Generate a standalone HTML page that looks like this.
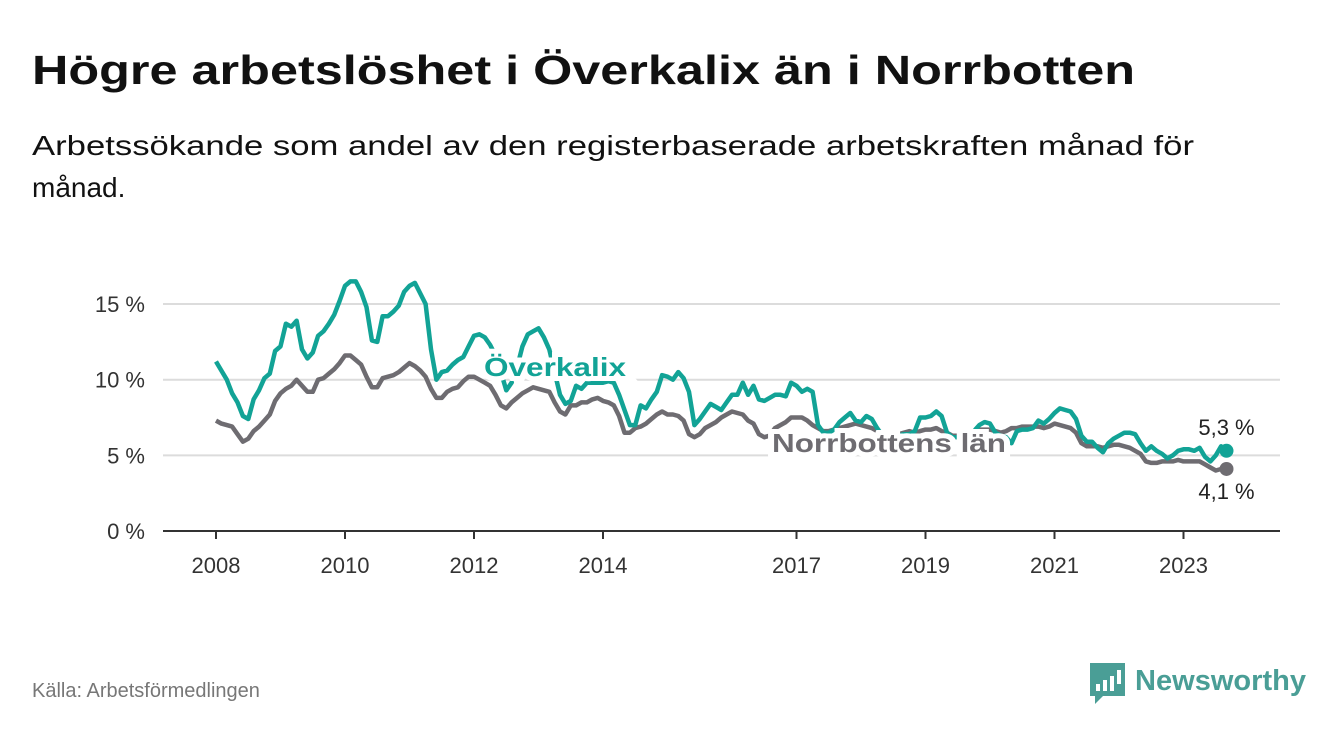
<!DOCTYPE html>
<html><head><meta charset="utf-8"><style>
html,body{margin:0;padding:0;background:#fff;}
svg{display:block;font-family:"Liberation Sans",sans-serif;}
</style></head><body>
<svg id="chart" width="1340" height="734" viewBox="0 0 1340 734">
<text x="32" y="84" font-size="41" font-weight="bold" fill="#111" textLength="1103" lengthAdjust="spacingAndGlyphs">Högre arbetslöshet i Överkalix än i Norrbotten</text>
<text x="32" y="155" font-size="28" fill="#111" textLength="1162" lengthAdjust="spacingAndGlyphs">Arbetssökande som andel av den registerbaserade arbetskraften månad för</text>
<text x="32" y="197" font-size="28" fill="#111">månad.</text>
<g id="grid"></g>
<g id="yticks"></g>
<g id="xticks"></g>
<g id="lines"></g>
<text x="32" y="697" font-size="20" fill="#777">Källa: Arbetsförmedlingen</text>
<g>
<path d="M1090 663 h35 v33 h-22 l-8 8 v-8 h-5 z" fill="#4a9e96"/>
<rect x="1096" y="684" width="4" height="7" fill="#fff"/><rect x="1103" y="680" width="4" height="11" fill="#fff"/><rect x="1110" y="676" width="4" height="15" fill="#fff"/><rect x="1117" y="670" width="4" height="14" fill="#fff"/>
<text x="1135" y="690" font-size="29" font-weight="bold" fill="#4a9e96" textLength="171" lengthAdjust="spacingAndGlyphs">Newsworthy</text>
</g>
</svg>
<script>
const yTicks=[0,5,10,15];
const yTickLabels=["0 %","5 %","10 %","15 %"];
const xTickYears=[2008,2010,2012,2014,2017,2019,2021,2023];
const overkalix=[11.2,10.6,10.0,9.1,8.5,7.6,7.4,8.7,9.3,10.1,10.4,11.9,12.2,13.7,13.5,13.9,12.0,11.4,11.8,12.9,13.2,13.7,14.3,15.2,16.2,16.5,16.5,15.8,14.8,12.6,12.5,14.2,14.2,14.5,14.9,15.8,16.2,16.4,15.7,15.0,12.0,10.0,10.5,10.6,11.0,11.3,11.5,12.2,12.9,13.0,12.8,12.3,11.6,10.5,9.3,9.8,10.8,12.2,13.0,13.2,13.4,12.8,12.0,10.5,9.0,8.4,8.6,9.6,9.4,9.8,9.8,9.8,9.8,9.9,9.8,9.0,8.0,7.0,7.0,8.3,8.1,8.7,9.2,10.3,10.2,10.0,10.5,10.1,9.2,7.0,7.4,7.9,8.4,8.2,8.0,8.5,9.0,9.0,9.8,9.0,9.6,8.7,8.6,8.8,9.0,9.0,8.9,9.8,9.6,9.2,9.4,9.2,7.0,6.5,6.5,6.7,7.2,7.5,7.8,7.3,7.2,7.6,7.4,6.8,6.3,6.2,6.2,6.3,6.4,6.4,6.6,7.5,7.5,7.6,7.9,7.6,6.5,6.2,6.2,6.2,6.4,6.6,7.0,7.2,7.1,6.5,6.3,6.2,5.8,6.6,6.7,6.7,6.8,7.3,7.1,7.4,7.8,8.1,8.0,7.9,7.4,6.3,5.9,5.9,5.5,5.2,5.8,6.1,6.3,6.5,6.5,6.4,5.8,5.3,5.6,5.3,5.1,4.8,5.0,5.3,5.4,5.4,5.3,5.5,4.9,4.6,5.0,5.6,5.3];
const norrbotten=[7.3,7.1,7.0,6.9,6.4,5.9,6.1,6.6,6.9,7.3,7.7,8.6,9.1,9.4,9.6,10.0,9.6,9.2,9.2,10.0,10.1,10.4,10.7,11.1,11.6,11.6,11.3,11.0,10.2,9.5,9.5,10.1,10.2,10.3,10.5,10.8,11.1,10.9,10.6,10.2,9.4,8.8,8.8,9.2,9.4,9.5,9.9,10.2,10.2,10.0,9.8,9.6,9.0,8.3,8.1,8.5,8.8,9.1,9.3,9.5,9.4,9.3,9.2,8.5,7.9,7.7,8.3,8.3,8.5,8.5,8.7,8.8,8.6,8.5,8.3,7.6,6.5,6.5,6.8,6.9,7.1,7.4,7.7,7.9,7.7,7.7,7.6,7.3,6.4,6.2,6.4,6.8,7.0,7.2,7.5,7.7,7.9,7.8,7.7,7.3,7.1,6.4,6.2,6.3,6.8,7.0,7.2,7.5,7.5,7.5,7.3,7.0,6.8,6.6,6.6,6.7,6.8,6.9,7.0,7.1,7.0,6.9,6.8,6.6,6.5,6.5,6.4,6.4,6.5,6.6,6.5,6.6,6.7,6.7,6.8,6.6,6.5,6.3,6.3,6.4,6.5,6.6,6.7,6.7,6.7,6.6,6.5,6.6,6.8,6.8,6.9,6.9,6.9,6.9,6.8,6.9,7.1,7.0,6.9,6.8,6.5,5.8,5.6,5.6,5.6,5.5,5.6,5.7,5.7,5.6,5.5,5.3,5.1,4.6,4.5,4.5,4.6,4.6,4.6,4.7,4.6,4.6,4.6,4.6,4.4,4.2,4.0,4.1,4.1];
const lastLabels=["5,3 %","4,1 %"];

const NS="http://www.w3.org/2000/svg";
const x0=216, pxPerMonth=64.5/12, yZero=531, pxPerPct=15.13;
function xScale(i){return x0+i*pxPerMonth;}
function xYear(y){return x0+(y-2008)*12*pxPerMonth;}
function yScale(v){return yZero-v*pxPerPct;}
function mk(tag,attrs,parent){const e=document.createElementNS(NS,tag);for(const k in attrs)e.setAttribute(k,attrs[k]);parent.appendChild(e);return e;}

const grid=document.getElementById('grid'),yt=document.getElementById('yticks'),xt=document.getElementById('xticks'),lines=document.getElementById('lines');
yTicks.forEach((v,k)=>{
  if(v>0){const g=mk('line',{x1:163,x2:1280,y1:yScale(v),y2:yScale(v),stroke:'#dcdcdc','stroke-width':2},grid);
  
  }
  const t=mk('text',{x:145,y:yScale(v)+8,'font-size':22,fill:'#333','text-anchor':'end'},yt);
  t.textContent=yTickLabels[k];
  
  
});
const ax=mk('line',{x1:163,x2:1280,y1:yZero,y2:yZero,stroke:'#333','stroke-width':2},xt);


xTickYears.forEach(y=>{
  const tk=mk('line',{x1:xYear(y),x2:xYear(y),y1:yZero,y2:yZero+8,stroke:'#333','stroke-width':2},xt);
  
  
  const t=mk('text',{x:xYear(y),y:573,'font-size':22,fill:'#333','text-anchor':'middle'},xt);
  t.textContent=y;
  
  
});
function path(arr){return arr.map((v,i)=>(i?'L':'M')+xScale(i).toFixed(1)+' '+yScale(v).toFixed(1)).join(' ');}
const pg=mk('path',{d:path(norrbotten),fill:'none',stroke:'#6e6c71','stroke-width':4.5,'stroke-linejoin':'round'},lines);


const pt=mk('path',{d:path(overkalix),fill:'none',stroke:'#12a396','stroke-width':4.5,'stroke-linejoin':'round'},lines);


const nL=norrbotten.length-1, oL=overkalix.length-1;
const d1=mk('circle',{cx:xScale(nL),cy:yScale(norrbotten[nL]),r:7,fill:'#6e6c71'},lines);


const d2=mk('circle',{cx:xScale(oL),cy:yScale(overkalix[oL]),r:7,fill:'#12a396'},lines);


const l1=mk('text',{x:xScale(oL),y:yScale(overkalix[oL])-16,'font-size':22,fill:'#222','text-anchor':'middle',stroke:'#fff','stroke-width':6,'paint-order':'stroke'},lines);
l1.textContent=lastLabels[0];


const l2=mk('text',{x:xScale(nL),y:yScale(norrbotten[nL])+30,'font-size':22,fill:'#222','text-anchor':'middle',stroke:'#fff','stroke-width':6,'paint-order':'stroke'},lines);
l2.textContent=lastLabels[1];


const s1=mk('text',{x:484,y:376,'font-size':26,'font-weight':'bold',fill:'#12a396',stroke:'#fff','stroke-width':10,'paint-order':'stroke',textLength:142,lengthAdjust:'spacingAndGlyphs'},lines);
s1.textContent='Överkalix';


const s2=mk('text',{x:772,y:452,'font-size':26,'font-weight':'bold',fill:'#6e6c71',stroke:'#fff','stroke-width':10,'paint-order':'stroke',textLength:234,lengthAdjust:'spacingAndGlyphs'},lines);
s2.textContent='Norrbottens län';


</script>
</body></html>
